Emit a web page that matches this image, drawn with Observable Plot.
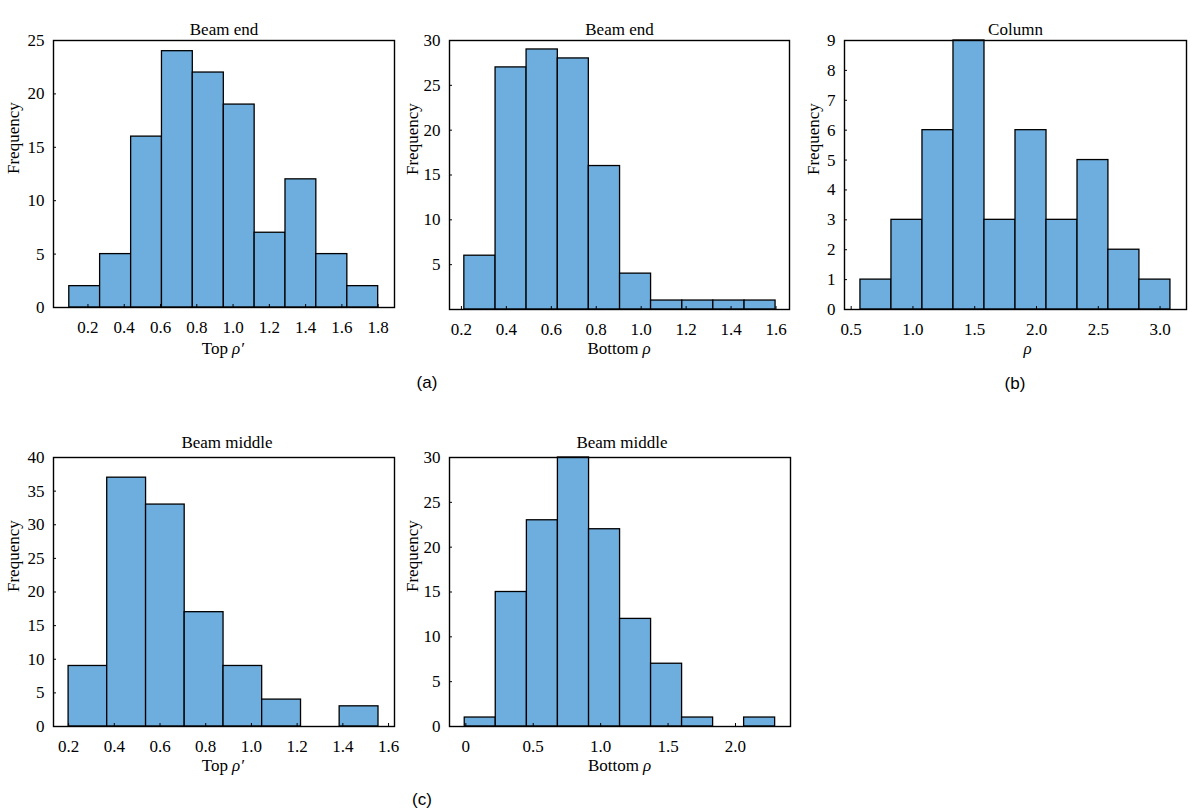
<!DOCTYPE html>
<html><head><meta charset="utf-8">
<script src="https://cdn.jsdelivr.net/npm/d3@7"></script>
<script src="https://cdn.jsdelivr.net/npm/@observablehq/plot@0.6"></script>
<style>
body{margin:0;background:#fff;}
#wrap{position:relative;width:1198px;height:810px;background:#fff;overflow:hidden;}
.panel{position:absolute;}
.tag{position:absolute;font-family:"Liberation Sans",Arial,sans-serif;font-size:17px;color:#000;transform:translate(-50%,-50%);white-space:nowrap;}
</style></head><body><div id="wrap"></div>
<script>
// ---- Data ----
// Beam end, top reinforcement ratio
const endTopEdges  = [0.097,0.267,0.438,0.608,0.778,0.949,1.119,1.289,1.459,1.630,1.800];
const endTopCounts = [2,5,16,24,22,19,7,12,5,2];
const endTopXTicks = [0.2,0.4,0.6,0.8,1.0,1.2,1.4,1.6,1.8];
const endTopYTicks = [0,5,10,15,20,25];
// Beam end, bottom reinforcement ratio
const endBotEdges  = [0.213,0.352,0.490,0.629,0.767,0.906,1.044,1.183,1.321,1.460,1.598];
const endBotCounts = [6,27,29,28,16,4,1,1,1,1];
const endBotXTicks = [0.2,0.4,0.6,0.8,1.0,1.2,1.4,1.6];
const endBotYTicks = [5,10,15,20,25,30];
// Column
const colEdges  = [0.575,0.826,1.077,1.328,1.579,1.830,2.081,2.332,2.582,2.833,3.084];
const colCounts = [1,3,6,9,3,6,3,5,2,1];
const colXTicks = [0.5,1.0,1.5,2.0,2.5,3.0];
const colYTicks = [0,1,2,3,4,5,6,7,8,9];
// Beam middle, top
const midTopEdges  = [0.2,0.369,0.539,0.708,0.878,1.047,1.217,1.386,1.556];
const midTopCounts = [9,37,33,17,9,4,0,3];
const midTopXTicks = [0.2,0.4,0.6,0.8,1.0,1.2,1.4,1.6];
const midTopYTicks = [0,5,10,15,20,25,30,35,40];
// Beam middle, bottom
const midBotEdges  = [-0.008,0.222,0.453,0.683,0.914,1.144,1.374,1.604,1.834,2.064,2.294];
const midBotCounts = [1,15,23,30,22,12,7,1,0,1];
const midBotXTicks = [0,0.5,1.0,1.5,2.0];
const midBotYTicks = [0,5,10,15,20,25,30];

const BAR = "#6eaedf";
const SERIF = '"Liberation Serif","Times New Roman",serif';
const fmtX = d => d === 0 ? "0" : d.toFixed(1);

function panel(o) {
  const bars = o.counts.map((c, i) => ({x1: o.edges[i], x2: o.edges[i + 1], c}));
  const marks = [
    Plot.rectY(bars, {x1: "x1", x2: "x2", y: "c", fill: BAR, stroke: "black", strokeWidth: 1.3}),
    Plot.frame({stroke: "black", strokeWidth: 1.4}),
    Plot.axisX(o.xTicks, {tickSize: -3, tickPadding: 16, tickFormat: fmtX, label: null, fontSize: 17}),
    Plot.axisY(o.yTicks, {tickSize: -3, tickPadding: 12, tickFormat: d => String(d), label: null, fontSize: 17}),
    Plot.text([o.title], {frameAnchor: "top", dy: o.titleDy, dx: o.titleDx || 0, fontSize: 17}),
    Plot.text(["Frequency"], {frameAnchor: "left", dx: o.ylabDx, rotate: -90, fontSize: 17})
  ];
  if (o.xPre) {
    marks.push(Plot.text([o.xPre], {frameAnchor: "bottom", dy: o.xlabDy, dx: o.preDx, textAnchor: "end", fontSize: 17}));
    marks.push(Plot.text([o.xSym], {frameAnchor: "bottom", dy: o.xlabDy, dx: o.symDx, textAnchor: "start", fontStyle: "italic", fontSize: 17}));
  } else {
    marks.push(Plot.text([o.xSym], {frameAnchor: "bottom", dy: o.xlabDy, dx: o.symDx, fontStyle: "italic", fontSize: 17}));
  }
  const svg = Plot.plot({
    width: o.w, height: o.h,
    marginLeft: o.mL, marginRight: o.mR, marginTop: o.mT, marginBottom: o.mB,
    x: {domain: o.xDomain, label: null},
    y: {domain: o.yDomain, label: null},
    style: {fontFamily: SERIF, fontSize: "17px", color: "black", background: "white"},
    marks
  });
  svg.classList.add("panel");
  svg.style.left = o.left + "px";
  svg.style.top = o.top + "px";
  svg.style.maxWidth = "none";
  document.getElementById("wrap").appendChild(svg);
}

panel({left: 0, top: 0, w: 400, h: 370, mL: 53, mR: 6, mT: 40, mB: 63,
  edges: endTopEdges, counts: endTopCounts, xTicks: endTopXTicks, yTicks: endTopYTicks,
  xDomain: [0.01, 1.89], yDomain: [0, 25], title: "Beam end", titleDy: -18,
  ylabDx: -40, xlabDy: 46, xPre: "Top", xSym: "ρ′", preDx: 4, symDx: 8});
panel({left: 400, top: 0, w: 400, h: 370, mL: 49, mR: 11, mT: 40, mB: 61,
  edges: endBotEdges, counts: endBotCounts, xTicks: endBotXTicks, yTicks: endBotYTicks,
  xDomain: [0.147, 1.66], yDomain: [0, 30], title: "Beam end", titleDy: -18,
  ylabDx: -37, xlabDy: 44, xPre: "Bottom", xSym: "ρ", preDx: 19, symDx: 23});
panel({left: 800, top: 0, w: 398, h: 370, mL: 44, mR: 12, mT: 40, mB: 61,
  edges: colEdges, counts: colCounts, xTicks: colXTicks, yTicks: colYTicks,
  xDomain: [0.446, 3.214], yDomain: [0, 9], title: "Column", titleDy: -18,
  ylabDx: -31, xlabDy: 44, xSym: "ρ", symDx: 12});
panel({left: 0, top: 400, w: 400, h: 390, mL: 53, mR: 6, mT: 57, mB: 64,
  edges: midTopEdges, counts: midTopCounts, xTicks: midTopXTicks, yTicks: midTopYTicks,
  xDomain: [0.134, 1.626], yDomain: [0, 40], title: "Beam middle", titleDy: -22, titleDx: 3,
  ylabDx: -40, xlabDy: 44, xPre: "Top", xSym: "ρ′", preDx: 4, symDx: 8});
panel({left: 400, top: 400, w: 400, h: 390, mL: 49, mR: 10, mT: 57, mB: 64,
  edges: midBotEdges, counts: midBotCounts, xTicks: midBotXTicks, yTicks: midBotYTicks,
  xDomain: [-0.121, 2.408], yDomain: [0, 30], title: "Beam middle", titleDy: -22, titleDx: 2,
  ylabDx: -37, xlabDy: 44, xPre: "Bottom", xSym: "ρ", preDx: 19, symDx: 23});

const tags = [["(a)", 427, 383], ["(b)", 1015, 384], ["(c)", 422, 800]];
for (const [t, x, y] of tags) {
  const d = document.createElement("div");
  d.className = "tag"; d.textContent = t;
  d.style.left = x + "px"; d.style.top = y + "px";
  document.getElementById("wrap").appendChild(d);
}
</script></body></html>
